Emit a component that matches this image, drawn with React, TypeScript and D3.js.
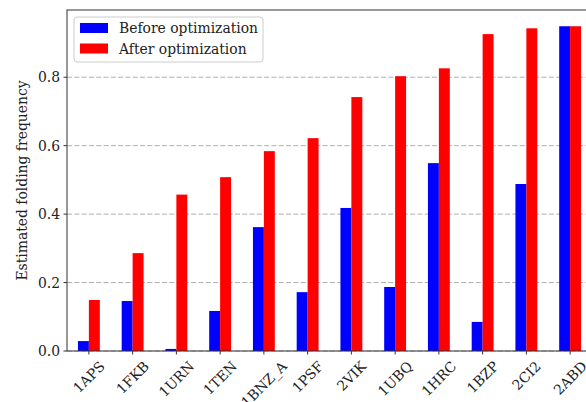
import React, { useEffect, useRef } from "react";
import * as d3 from "d3";

const proteins = ["1APS", "1FKB", "1URN", "1TEN", "1BNZ_A", "1PSF", "2VIK", "1UBQ", "1HRC", "1BZP", "2CI2", "2ABD"];
const before = [0.029, 0.146, 0.006, 0.117, 0.362, 0.172, 0.418, 0.187, 0.549, 0.085, 0.488, 0.949];
const after = [0.149, 0.286, 0.457, 0.508, 0.584, 0.622, 0.742, 0.803, 0.826, 0.926, 0.943, 0.949];
const yTicks = [0.0, 0.2, 0.4, 0.6, 0.8];
const seriesNames = ["Before optimization", "After optimization"];
const seriesColors = ["#0000ff", "#ff0000"];

const W = 586, H = 402;
const M = { left: 67, top: 10, bottom: 351, right: 592 };
const FONT = "'DejaVu Serif', serif";
const FS = 13.9;

export default function App() {
  const ref = useRef<SVGSVGElement>(null);
  useEffect(() => {
    const svg = d3.select(ref.current!);
    svg.selectAll("*").remove();
    const n = proteins.length;
    const x = d3.scaleLinear().domain([-0.5, n - 0.5]).range([M.left, M.right]);
    const ymax = d3.max(after.concat(before))! * 1.05;
    const y = d3.scaleLinear().domain([0, ymax]).range([M.bottom, M.top]);

    svg.append("rect").attr("width", W).attr("height", H).attr("fill", "white");

    // grid
    svg.append("g").selectAll("line").data(yTicks).join("line")
      .attr("x1", M.left).attr("x2", M.right)
      .attr("y1", d => y(d)).attr("y2", d => y(d))
      .attr("stroke", "#b0b0b0").attr("stroke-width", 1)
      .attr("stroke-dasharray", "5.1,2.2");

    // bars
    const bw = 0.25;
    const series = [before, after];
    series.forEach((vals, si) => {
      svg.append("g").selectAll("rect").data(vals).join("rect")
        .attr("x", (_, i) => x(i - bw + si * bw))
        .attr("width", x(bw) - x(0))
        .attr("y", d => y(d))
        .attr("height", d => y(0) - y(d))
        .attr("fill", seriesColors[si]);
    });

    // spines
    const sp = svg.append("g").attr("stroke", "#333").attr("stroke-width", 1).attr("fill", "none");
    sp.append("rect").attr("x", M.left).attr("y", M.top)
      .attr("width", M.right - M.left).attr("height", M.bottom - M.top);

    // y ticks
    const yg = svg.append("g");
    yTicks.forEach(t => {
      yg.append("line").attr("x1", M.left - 3.5).attr("x2", M.left)
        .attr("y1", y(t)).attr("y2", y(t)).attr("stroke", "#333").attr("stroke-width", 1);
      yg.append("text").attr("x", M.left - 7).attr("y", y(t))
        .attr("text-anchor", "end").attr("dominant-baseline", "central")
        .attr("font-family", FONT).attr("font-size", FS).attr("fill", "#222")
        .text(t.toFixed(1));
    });

    // x ticks
    const xg = svg.append("g");
    proteins.forEach((p, i) => {
      const cx = x(i);
      xg.append("line").attr("x1", cx).attr("x2", cx)
        .attr("y1", M.bottom).attr("y2", M.bottom + 3.5).attr("stroke", "#333").attr("stroke-width", 1);
      const t = xg.append("text")
        .attr("text-anchor", "middle").attr("dominant-baseline", "central")
        .attr("font-family", FONT).attr("font-size", FS).attr("fill", "#222")
        .text(p);
      const w = (t.node() as SVGTextElement).getComputedTextLength();
      const h = FS * 1.15;
      const s = Math.SQRT1_2;
      const cy = M.bottom + 7 + (w * s + h * s) / 2;
      t.attr("transform", `translate(${cx},${cy}) rotate(-45)`);
    });

    // y label
    svg.append("text")
      .attr("transform", `translate(22,${(M.top + M.bottom) / 2}) rotate(-90)`)
      .attr("text-anchor", "middle").attr("dominant-baseline", "central")
      .attr("font-family", FONT).attr("font-size", FS).attr("fill", "#222")
      .text("Estimated folding frequency");

    // legend
    const lg = svg.append("g");
    lg.append("rect").attr("x", 74).attr("y", 17).attr("width", 189).attr("height", 45)
      .attr("rx", 3).attr("fill", "white").attr("fill-opacity", 0.8)
      .attr("stroke", "#cccccc").attr("stroke-width", 1);
    seriesNames.forEach((nm, i) => {
      const yy = 23 + i * 20.5;
      lg.append("rect").attr("x", 80).attr("y", yy).attr("width", 28).attr("height", 10)
        .attr("fill", seriesColors[i]);
      lg.append("text").attr("x", 119).attr("y", yy + 5)
        .attr("dominant-baseline", "central")
        .attr("font-family", FONT).attr("font-size", FS).attr("fill", "#222")
        .text(nm);
    });
  }, []);
  return (
    <svg ref={ref} width={W} height={H}
      style={{ position: "absolute", left: 0, top: 0, display: "block" }} />
  );
}
